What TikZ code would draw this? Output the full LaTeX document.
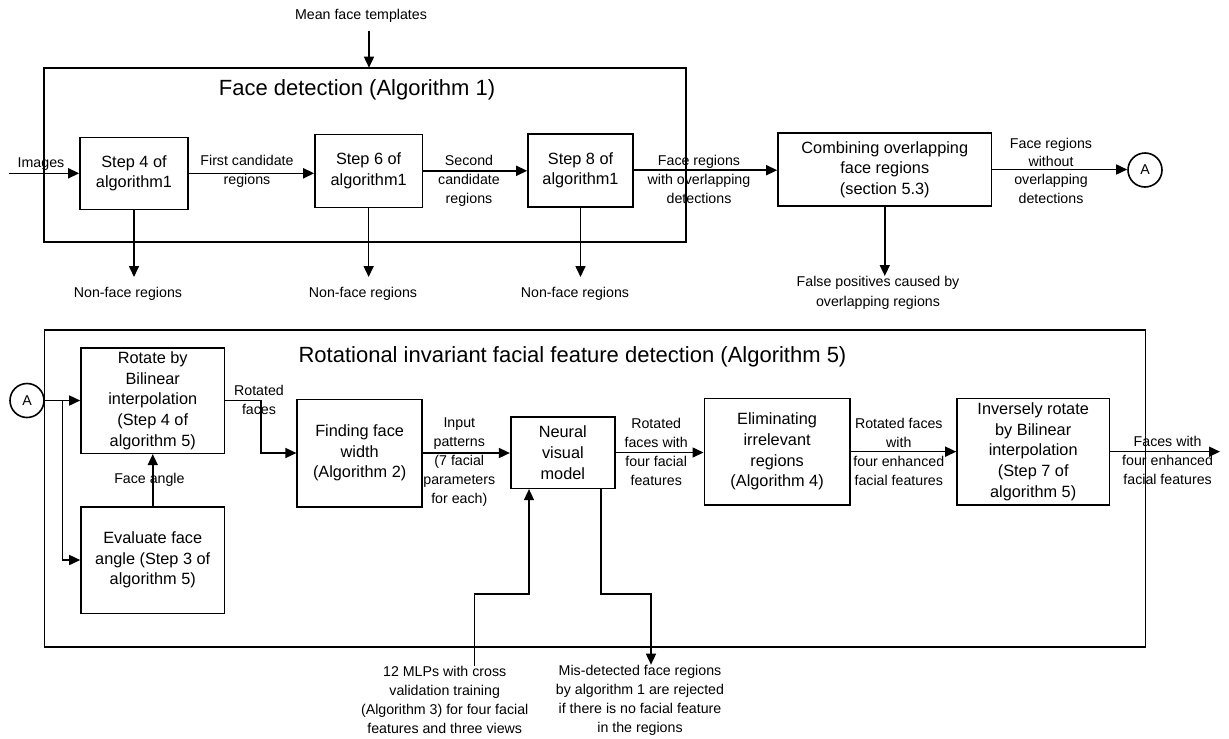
\documentclass[tikz,border=0pt]{standalone}
\usepackage{fontspec}
\setmainfont{Liberation Sans}
\usetikzlibrary{arrows.meta}
\begin{document}
\begin{tikzpicture}[x=1pt,y=-1pt,
  arr/.style={-{Triangle[length=11pt,width=10pt]}, line width=1.6pt},
  frame/.style={draw, line width=1.6pt, inner sep=0pt},
  box/.style={draw, line width=1.6pt, align=center, inner sep=0pt, font=\fontsize{16.3}{20.7}\selectfont},
  lbl/.style={align=center, inner sep=0pt, font=\fontsize{14.2}{19}\selectfont},
  ttl/.style={inner sep=0pt, font=\fontsize{22}{26}\selectfont},
  circ/.style={draw, circle, line width=1.6pt, minimum size=34pt, inner sep=0pt, font=\fontsize{14.2}{17}\selectfont},
]
\useasboundingbox (0,0) rectangle (1229,739);

% ---------- top part ----------
\node[frame, minimum width=642.25pt, minimum height=174pt] (fd) at (364.9,154.7) {};
\node[ttl] (t1) at (357,90) {Face detection (Algorithm 1)};
\node[lbl, inner ysep=8pt] (mft) at (361,15.7) {Mean face templates};
\coordinate (mt) at (369,67.7);
\draw[arr] (mft.south -| mt) -- (mt);

\node[box, minimum width=108pt, minimum height=72pt] (s4) at (134,173.3) {Step 4 of\\algorithm1};
\node[box, minimum width=107.3pt, minimum height=73pt] (s6) at (368.65,170.8) {Step 6 of\\algorithm1};
\node[box, minimum width=105pt, minimum height=73pt] (s8) at (580.5,170.2) {Step 8 of\\algorithm1};
\node[box, minimum width=213.6pt, minimum height=73pt] (cb) at (884.8,169.5) {Combining overlapping\\face regions\\(section 5.3)};
\node[circ] (A1) at (1145,170) {A};

\node[lbl] (limg) at (41,164) {Images};
\coordinate (in) at (9,173.3);
\draw[arr] (in) -- (s4.west);

\node[lbl] (l1) at (247,171.7) {First candidate\\regions};
\draw[arr] (s4.east) -- (s4.east -| s6.west);
\node[lbl] (l2) at (469,180.5) {Second\\candidate\\regions};
\draw[arr] (s6.east) -- (s6.east -| s8.west);
\node[lbl] (l3) at (699,179.3) {Face regions\\with overlapping\\detections};
\draw[arr] (s8.east) -- (s8.east -| cb.west);
\node[lbl, font=\fontsize{14.2}{18.3}\selectfont] (l4) at (1051,170.5) {Face regions\\without\\overlapping\\detections};
\draw[arr] (cb.east) -- (cb.east -| A1.west);

\node[lbl, anchor=north, inner ysep=10pt] (nf1) at (128,277) {Non-face regions};
\node[lbl, anchor=north, inner ysep=10pt] (nf2) at (363,277) {Non-face regions};
\node[lbl, anchor=north, inner ysep=10pt] (nf3) at (575,277) {Non-face regions};
\draw[arr] (s4.south) -- (s4.south |- nf1.north);
\draw[arr] (s6.south) -- (s6.south |- nf2.north);
\draw[arr] (s8.south) -- (s8.south |- nf3.north);

\node[lbl, anchor=north, font=\fontsize{14.2}{20}\selectfont] (fp) at (878,276) {False positives caused by\\overlapping regions};
\draw[arr] (cb.south) -- (cb.south |- fp.north);

% ---------- bottom part ----------
\node[frame, minimum width=1101.2pt, minimum height=317pt] (rf) at (594.9,488.5) {};
\node[ttl] (t2) at (572.5,356.7) {Rotational invariant facial feature detection (Algorithm 5)};

\node[circ] (A2) at (27,400.5) {A};
\node[box, minimum width=143.5pt, minimum height=105.6pt] (rot) at (152.75,400.5) {Rotate by\\Bilinear\\interpolation\\(Step 4 of\\algorithm 5)};
\node[box, minimum width=143.5pt, minimum height=106.6pt] (ev) at (152.75,560) {Evaluate face\\angle (Step 3 of\\algorithm 5)};
\node[box, minimum width=124.9pt, minimum height=107.4pt] (fw) at (359.65,453) {Finding face\\width\\(Algorithm 2)};
\node[box, minimum width=104.3pt, minimum height=71.6pt] (nv) at (562.85,452.5) {Neural\\visual\\model};
\node[box, minimum width=145.6pt, minimum height=106.7pt] (el) at (777.1,451.65) {Eliminating\\irrelevant\\regions\\(Algorithm 4)};
\node[box, minimum width=152.4pt, minimum height=106.7pt] (inv) at (1033.2,451.65) {Inversely rotate\\by Bilinear\\interpolation\\(Step 7 of\\algorithm 5)};

\draw[arr] (A2.east) -- (A2.east -| rot.west);
\coordinate (br) at (62.5,400.5);
\draw[arr] (br) |- (ev.west);

\node[lbl] (lfa) at (149.4,480) {Face angle};
\draw[arr] (ev.north) -- (rot.south);

\node[lbl] (lrf) at (259,400) {Rotated\\faces};
\coordinate (rfc) at (261,453);
\draw[arr] (rot.east) -| (rfc) -- (fw.west);

\node[lbl] (lip) at (459.3,461.7) {Input\\patterns\\(7 facial\\parameters\\for each)};
\draw[arr] (fw.east) -- (fw.east -| nv.west);

\node[lbl] (lr4) at (656.2,451.8) {Rotated\\faces with\\four facial\\features};
\draw[arr] (nv.east) -- (nv.east -| el.west);

\node[lbl] (lre) at (898.8,451.7) {Rotated faces\\with\\four enhanced\\facial features};
\draw[arr] (el.east) -- (el.east -| inv.west);

\node[lbl] (lout) at (1167.6,460.5) {Faces with\\four enhanced\\facial features};
\coordinate (out) at (1220,451.65);
\draw[arr] (inv.east) -- (out);

\node[lbl] (mlp) at (444.7,700) {12 MLPs with cross\\validation training\\(Algorithm 3) for four facial\\features and three views};
\node[lbl] (mis) at (640,700) {Mis-detected face regions\\by algorithm 1 are rejected\\if there is no facial feature\\in the regions};
\coordinate (m1) at (474.3,594);
\coordinate (m2) at (529,594);
\draw[arr] (mlp.north -| m1) -- (m1) -- (m2) -- (m2 |- nv.south);
\coordinate (d1) at (600.8,594);
\coordinate (d2) at (651,594);
\draw[arr] (d1 |- nv.south) -- (d1) -- (d2) -- (d2 |- mis.north);
\end{tikzpicture}
\end{document}
